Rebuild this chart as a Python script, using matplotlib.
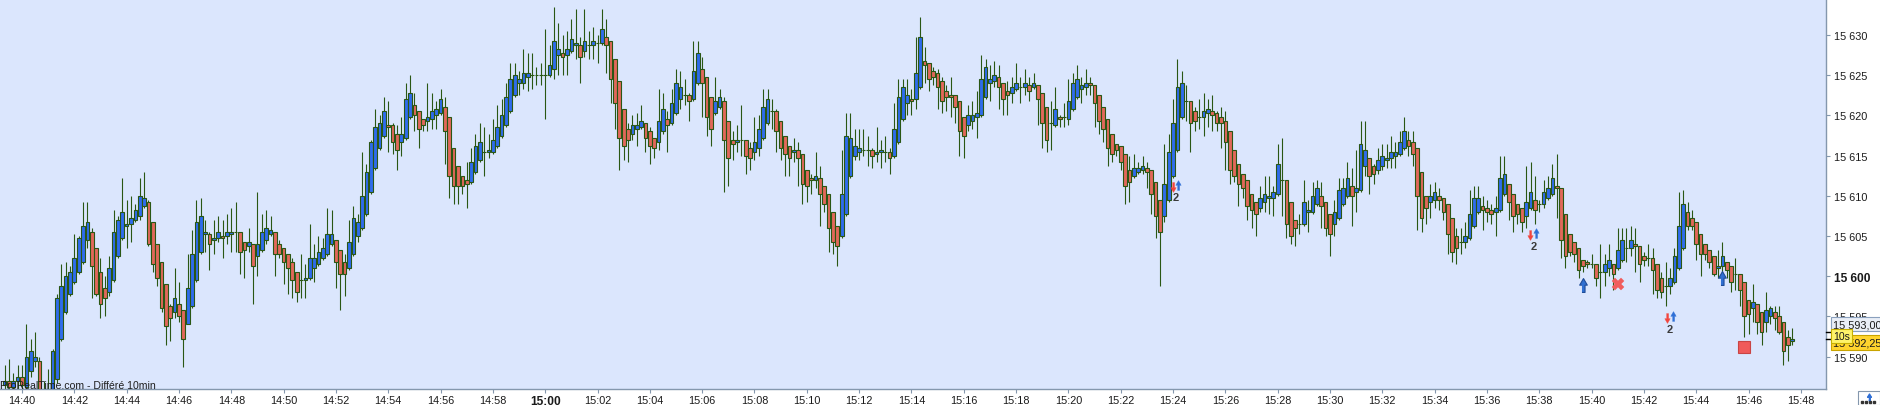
import numpy as np
import matplotlib
matplotlib.use("Agg")
import matplotlib.pyplot as plt
from matplotlib.lines import Line2D
from matplotlib.patches import Rectangle

plt.rcParams['font.family'] = ['Liberation Sans', 'DejaVu Sans']

# 10 second bars, first bar 14:39:20
first_bar_min = -40 / 60.0   # minutes relative to 14:40
bar_seconds = 10

opens = [
    15586.5, 15587.0, 15586.25, 15587.0,
    15587.5, 15586.25, 15588.25, 15589.5, 15589.5, 15586.0, 15585.0, 15586.0, 15587.25, 15592.25,
    15595.5, 15597.75, 15599.25, 15600.5, 15601.75, 15604.5, 15605.5, 15603.5, 15600.5, 15598.5,
    15598.0, 15599.5, 15602.5, 15604.75, 15606.25, 15606.5, 15607.0, 15607.5, 15608.75, 15609.25,
    15606.75, 15604.0, 15601.75, 15599.0, 15596.25, 15595.5, 15596.5, 15595.75, 15594.0, 15596.25,
    15599.5, 15603.0, 15605.25, 15605.25, 15604.5, 15604.75, 15605.0, 15605.0, 15605.25, 15605.5,
    15605.5, 15604.25, 15603.75, 15604.0, 15602.5, 15603.25, 15604.5, 15605.25, 15605.5, 15604.0,
    15603.5, 15602.75, 15601.75, 15600.5, 15599.5, 15599.5, 15599.75, 15601.0, 15601.5, 15602.25,
    15602.75, 15604.0, 15604.5, 15603.25, 15601.75, 15601.0, 15602.75, 15605.0, 15606.0, 15607.75,
    15610.5, 15613.5, 15616.0, 15617.5, 15618.75, 15618.75, 15617.75, 15616.75, 15617.25, 15619.75,
    15621.25, 15620.5, 15619.5, 15619.25, 15619.5, 15620.0, 15620.25, 15621.0, 15619.75, 15616.0,
    15613.75, 15612.5, 15612.0, 15611.75, 15613.0, 15614.5, 15615.5, 15615.5, 15615.5, 15616.25,
    15617.5, 15618.75, 15620.5, 15622.5, 15624.0, 15624.0, 15624.75, 15625.0, 15625.0, 15625.0,
    15625.0, 15625.0, 15625.75, 15627.5, 15627.75, 15627.5, 15628.0, 15628.75, 15628.75, 15628.0,
    15628.75, 15628.75, 15629.0, 15629.0, 15629.75, 15629.25, 15627.0, 15624.25, 15620.75, 15618.25,
    15617.75, 15618.25, 15618.5, 15619.0, 15618.0, 15617.25, 15616.75, 15618.0, 15619.5, 15619.0,
    15620.25, 15622.0, 15622.5, 15622.5, 15622.0, 15624.0, 15625.75, 15624.75, 15622.25, 15620.25,
    15621.0, 15621.75, 15619.25, 15617.0, 15616.75, 15617.0, 15617.0, 15616.0, 15615.5, 15616.0,
    15617.25, 15619.0, 15620.5, 15620.5, 15619.25, 15617.5, 15616.25, 15615.5, 15615.75, 15615.25,
    15613.25, 15612.25, 15612.0, 15612.25, 15611.25, 15610.25, 15608.0, 15606.25, 15605.0, 15607.75,
    15612.5, 15615.0, 15615.5, 15615.75, 15615.75, 15615.75, 15615.25, 15615.5, 15615.5, 15615.5,
    15615.0, 15616.75, 15619.5, 15621.5, 15622.0, 15622.0, 15623.5, 15626.75, 15626.5, 15625.5,
    15625.25, 15624.25, 15623.0, 15622.5, 15622.5, 15621.75, 15619.75, 15618.75, 15619.25, 15619.75,
    15620.0, 15622.25, 15624.0, 15624.25, 15624.75, 15624.0, 15623.0, 15622.75, 15623.25, 15623.5,
    15623.5, 15623.75, 15623.5, 15623.75, 15622.75, 15621.0, 15619.0, 15618.75, 15619.75, 15619.75,
    15619.5, 15620.75, 15622.25, 15623.25, 15623.5, 15624.0, 15623.75, 15622.5, 15621.0, 15619.5,
    15617.75, 15616.5, 15616.25, 15615.25, 15613.25, 15612.5, 15613.0, 15613.25, 15613.5, 15613.25,
    15611.75, 15609.5, 15607.5, 15609.5, 15612.5, 15615.75, 15619.75, 15621.75, 15621.75, 15620.5,
    15619.75, 15619.75, 15620.25, 15620.5, 15620.25, 15619.75, 15619.25, 15618.0, 15615.75, 15614.0,
    15612.75, 15612.0, 15610.25, 15609.25, 15608.5, 15609.25, 15609.75, 15609.75, 15610.25, 15612.0,
    15612.0, 15609.25, 15607.0, 15606.5, 15606.5, 15608.0, 15608.0, 15609.0, 15610.0, 15609.25,
    15607.75, 15606.5, 15607.25, 15609.0, 15610.0, 15611.25, 15610.5, 15610.75, 15613.75, 15614.75,
    15613.75, 15613.25, 15613.75, 15614.5, 15614.75, 15615.0, 15615.25, 15616.0, 15617.0, 15616.75,
    15616.0, 15613.0, 15610.0, 15609.25, 15609.5, 15610.0, 15609.75, 15609.0, 15607.25, 15605.0,
    15604.25, 15604.25, 15604.75, 15606.25, 15608.0, 15608.75, 15608.5, 15608.25, 15608.0, 15608.25,
    15610.25, 15611.5, 15610.25, 15609.0, 15608.5, 15607.5, 15608.5, 15609.5, 15609.0, 15609.0,
    15609.75, 15610.25, 15611.25, 15611.0, 15607.75, 15605.25, 15604.25, 15603.5, 15602.0, 15601.75,
    15601.5, 15601.5, 15600.5, 15600.5, 15601.0, 15601.5, 15601.0, 15602.0, 15603.5, 15603.5,
    15604.0, 15603.75, 15602.5, 15602.25, 15602.25, 15601.5, 15599.75, 15598.75, 15598.75, 15599.25,
    15601.0, 15603.5, 15608.0, 15607.25, 15606.75, 15605.25, 15604.0, 15603.25, 15602.5, 15601.0,
    15601.25, 15601.75, 15601.25, 15600.25, 15600.25, 15599.25, 15597.0, 15596.0, 15596.5, 15595.5,
    15594.25, 15595.0, 15595.5, 15595.0, 15594.25, 15592.5, 15592.0,
]

highs = [
    15589.0, 15589.75, 15588.0, 15589.0,
    15589.0, 15594.0, 15592.25, 15593.0, 15590.0, 15587.0, 15588.5, 15591.0, 15597.75, 15601.5,
    15601.75, 15601.25, 15605.25, 15605.0, 15609.25, 15609.25, 15606.0, 15603.5, 15602.25, 15600.0,
    15602.5, 15608.25, 15607.5, 15612.25, 15609.5, 15610.0, 15609.0, 15612.25, 15613.0, 15609.5,
    15606.75, 15604.0, 15601.75, 15599.0, 15596.5, 15601.0, 15599.25, 15595.75, 15602.75, 15605.75,
    15609.5, 15609.75, 15607.0, 15605.5, 15607.0, 15607.5, 15607.0, 15607.75, 15608.5, 15609.25,
    15605.5, 15604.25, 15606.0, 15604.0, 15610.5, 15607.75, 15608.25, 15607.5, 15605.5, 15604.5,
    15603.5, 15602.75, 15602.25, 15600.5, 15602.75, 15601.5, 15606.5, 15604.0, 15605.0, 15604.75,
    15608.5, 15608.25, 15604.5, 15603.25, 15602.75, 15607.0, 15608.75, 15607.75, 15615.5, 15614.0,
    15617.0, 15620.75, 15620.0, 15622.25, 15621.75, 15619.0, 15618.75, 15619.75, 15624.0, 15625.0,
    15622.75, 15620.5, 15619.5, 15624.0, 15622.75, 15621.75, 15623.25, 15622.25, 15619.75, 15616.0,
    15613.75, 15612.5, 15614.25, 15616.0, 15617.75, 15619.0, 15618.5, 15617.75, 15619.5, 15621.25,
    15622.0, 15624.0, 15626.5, 15626.5, 15625.5, 15628.25, 15627.75, 15627.75, 15626.0, 15626.5,
    15630.75, 15628.75, 15633.5, 15631.5, 15630.0, 15630.5, 15632.0, 15633.25, 15629.75, 15633.25,
    15630.5, 15631.0, 15630.0, 15633.25, 15632.0, 15629.25, 15627.0, 15624.25, 15620.75, 15619.0,
    15620.0, 15620.25, 15621.25, 15619.0, 15618.5, 15617.25, 15623.25, 15622.75, 15620.5, 15623.25,
    15625.75, 15625.5, 15624.5, 15622.75, 15629.25, 15629.25, 15627.25, 15624.75, 15622.25, 15624.75,
    15623.25, 15622.25, 15619.25, 15618.0, 15618.75, 15621.25, 15617.0, 15616.75, 15619.75, 15620.0,
    15623.25, 15623.25, 15622.0, 15620.75, 15619.25, 15617.5, 15616.25, 15617.25, 15616.75, 15615.25,
    15613.25, 15612.75, 15615.5, 15613.75, 15611.25, 15610.25, 15608.0, 15606.25, 15615.75, 15620.25,
    15620.25, 15618.25, 15618.25, 15618.25, 15617.5, 15616.0, 15618.5, 15617.0, 15617.5, 15616.0,
    15621.5, 15624.5, 15624.5, 15624.5, 15623.25, 15629.75, 15632.25, 15628.5, 15626.5, 15626.0,
    15625.75, 15624.75, 15623.75, 15624.75, 15622.5, 15621.75, 15619.75, 15621.25, 15621.75, 15623.0,
    15627.5, 15627.0, 15626.25, 15626.75, 15626.25, 15624.0, 15624.25, 15624.75, 15626.5, 15624.75,
    15625.75, 15624.75, 15625.25, 15623.75, 15622.75, 15621.0, 15621.75, 15623.5, 15620.0, 15621.5,
    15624.5, 15625.25, 15626.25, 15624.75, 15625.75, 15624.75, 15623.75, 15622.5, 15621.0, 15619.5,
    15617.75, 15616.5, 15616.25, 15615.25, 15615.0, 15615.25, 15614.25, 15615.0, 15614.25, 15613.25,
    15611.75, 15609.5, 15616.5, 15617.75, 15622.0, 15627.0, 15625.5, 15623.75, 15621.75, 15621.0,
    15622.0, 15622.75, 15622.0, 15622.5, 15620.5, 15621.0, 15620.5, 15618.0, 15615.75, 15614.0,
    15612.75, 15612.0, 15610.25, 15609.25, 15611.25, 15612.5, 15612.5, 15611.25, 15616.5, 15617.25,
    15612.0, 15609.25, 15607.0, 15607.75, 15612.0, 15609.5, 15611.75, 15612.0, 15611.75, 15609.25,
    15607.75, 15609.5, 15612.25, 15612.25, 15614.25, 15613.5, 15615.75, 15619.25, 15619.25, 15614.75,
    15614.0, 15616.0, 15616.5, 15616.5, 15617.5, 15616.75, 15618.0, 15619.75, 15618.0, 15618.0,
    15616.0, 15613.0, 15610.0, 15611.5, 15611.75, 15611.0, 15609.75, 15609.0, 15607.25, 15606.0,
    15606.0, 15606.75, 15610.75, 15611.25, 15611.25, 15610.0, 15609.5, 15609.0, 15610.0, 15615.0,
    15615.0, 15611.5, 15610.25, 15609.0, 15608.5, 15613.75, 15614.25, 15612.5, 15609.5, 15612.0,
    15612.5, 15614.0, 15615.25, 15611.0, 15607.75, 15605.25, 15604.25, 15603.5, 15602.0, 15602.0,
    15602.75, 15601.5, 15604.0, 15602.75, 15604.0, 15601.5, 15606.0, 15606.0, 15606.0, 15606.25,
    15606.0, 15603.75, 15603.0, 15604.0, 15603.5, 15601.5, 15600.5, 15601.75, 15601.0, 15603.5,
    15610.5, 15610.75, 15609.25, 15608.25, 15606.75, 15605.25, 15604.0, 15603.25, 15602.5, 15603.25,
    15604.25, 15601.75, 15601.25, 15602.25, 15600.25, 15599.25, 15597.0, 15599.0, 15596.5, 15595.5,
    15598.0, 15596.25, 15596.25, 15596.25, 15594.25, 15593.25, 15593.5,
]

lows = [
    15585.5, 15585.5, 15585.75, 15586.0,
    15586.0, 15586.0, 15587.5, 15588.75, 15585.5, 15584.5, 15584.5, 15585.75, 15586.75, 15592.0,
    15595.25, 15597.5, 15599.0, 15600.25, 15601.5, 15603.5, 15597.25, 15597.5, 15594.75, 15595.0,
    15597.5, 15599.25, 15602.25, 15604.5, 15603.5, 15604.25, 15606.75, 15607.0, 15608.5, 15603.75,
    15600.5, 15598.75, 15595.5, 15591.5, 15592.0, 15594.75, 15594.25, 15588.75, 15594.0, 15596.0,
    15599.25, 15602.75, 15603.0, 15600.75, 15602.75, 15604.25, 15602.25, 15604.0, 15603.0, 15603.0,
    15600.25, 15599.75, 15603.0, 15596.5, 15600.0, 15603.0, 15604.0, 15605.0, 15600.0, 15602.25,
    15599.0, 15597.75, 15597.25, 15596.75, 15597.25, 15597.25, 15599.5, 15599.25, 15601.25, 15602.0,
    15602.5, 15603.75, 15598.5, 15595.75, 15597.5, 15600.75, 15602.5, 15604.25, 15605.75, 15607.5,
    15610.25, 15613.25, 15615.75, 15617.25, 15615.5, 15615.25, 15613.25, 15615.0, 15617.0, 15619.5,
    15618.0, 15616.0, 15618.0, 15618.0, 15618.25, 15618.25, 15620.0, 15614.0, 15609.75, 15609.0,
    15609.0, 15610.25, 15608.5, 15611.5, 15612.75, 15614.25, 15612.5, 15614.75, 15615.25, 15616.0,
    15617.25, 15618.5, 15620.25, 15622.25, 15622.5, 15623.25, 15623.0, 15623.25, 15623.75, 15623.75,
    15619.5, 15624.75, 15624.5, 15625.0, 15625.0, 15625.0, 15627.75, 15627.0, 15624.0, 15627.25,
    15627.0, 15627.0, 15626.5, 15628.75, 15625.25, 15621.5, 15618.25, 15613.25, 15614.5, 15614.25,
    15617.0, 15616.25, 15618.25, 15615.5, 15614.0, 15614.75, 15615.75, 15617.75, 15615.5, 15618.75,
    15620.0, 15620.75, 15621.25, 15619.25, 15621.75, 15623.75, 15619.75, 15617.5, 15616.25, 15620.0,
    15620.75, 15610.5, 15611.25, 15614.5, 15615.5, 15615.0, 15612.75, 15613.25, 15614.5, 15615.0,
    15617.0, 15618.75, 15618.25, 15615.5, 15614.5, 15612.5, 15612.5, 15614.25, 15611.25, 15609.0,
    15609.25, 15610.25, 15611.0, 15606.25, 15608.0, 15603.0, 15602.75, 15601.25, 15604.75, 15607.5,
    15612.25, 15614.5, 15614.5, 15615.0, 15613.75, 15613.5, 15614.25, 15613.5, 15614.25, 15612.75,
    15614.75, 15616.5, 15619.25, 15620.0, 15620.0, 15620.75, 15623.25, 15624.0, 15623.0, 15623.75,
    15620.75, 15620.25, 15620.5, 15619.75, 15619.0, 15615.0, 15614.75, 15618.0, 15618.25, 15617.25,
    15619.75, 15622.0, 15621.75, 15623.5, 15620.75, 15620.0, 15620.0, 15621.5, 15623.0, 15621.5,
    15622.5, 15621.75, 15623.25, 15618.75, 15616.0, 15615.5, 15615.75, 15618.5, 15618.5, 15618.5,
    15618.75, 15620.5, 15622.0, 15621.5, 15622.5, 15622.5, 15618.5, 15617.75, 15616.75, 15613.75,
    15614.25, 15615.0, 15613.25, 15609.0, 15609.25, 15612.25, 15612.75, 15612.75, 15611.0, 15607.75,
    15604.75, 15598.75, 15606.75, 15609.25, 15612.25, 15615.5, 15619.5, 15619.25, 15615.5, 15618.0,
    15618.25, 15617.5, 15618.5, 15618.0, 15618.0, 15616.0, 15613.25, 15611.5, 15611.75, 15608.75,
    15609.75, 15607.0, 15606.0, 15605.0, 15608.0, 15608.0, 15607.75, 15607.5, 15610.0, 15607.5,
    15604.75, 15604.0, 15603.75, 15605.25, 15606.25, 15605.5, 15607.75, 15608.75, 15606.0, 15605.0,
    15602.5, 15605.0, 15607.0, 15608.75, 15609.75, 15606.25, 15608.0, 15610.5, 15612.5, 15610.25,
    15611.5, 15612.75, 15613.25, 15613.5, 15613.5, 15613.5, 15615.0, 15615.75, 15615.0, 15613.75,
    15605.75, 15605.5, 15606.5, 15607.25, 15608.5, 15608.25, 15607.0, 15602.75, 15601.75, 15601.5,
    15602.75, 15603.5, 15604.5, 15606.0, 15607.75, 15605.75, 15606.75, 15606.5, 15605.0, 15608.0,
    15610.0, 15607.0, 15605.5, 15606.5, 15605.5, 15606.0, 15608.25, 15606.5, 15608.0, 15608.5,
    15609.5, 15610.0, 15607.25, 15602.25, 15601.0, 15602.5, 15601.75, 15599.75, 15600.5, 15601.0,
    15601.0, 15598.75, 15597.25, 15598.75, 15600.0, 15598.25, 15600.75, 15601.75, 15601.75, 15602.5,
    15600.5, 15599.25, 15601.25, 15601.25, 15597.75, 15597.25, 15597.25, 15596.25, 15597.75, 15599.0,
    15600.75, 15603.25, 15605.75, 15605.75, 15602.0, 15600.0, 15602.0, 15601.0, 15600.0, 15599.75,
    15599.75, 15599.75, 15598.0, 15598.25, 15596.25, 15592.5, 15592.75, 15594.25, 15592.75, 15591.5,
    15593.0, 15594.0, 15593.25, 15592.75, 15589.0, 15589.5, 15591.5,
]

closes = [
    15587.0, 15586.25, 15587.0, 15587.5,
    15586.5, 15590.0, 15590.75, 15590.0, 15586.0, 15585.0, 15586.0, 15590.75, 15597.25, 15598.75,
    15600.0, 15600.5, 15602.25, 15604.75, 15606.25, 15606.75, 15601.25, 15597.75, 15596.5, 15597.25,
    15601.0, 15605.5, 15607.0, 15608.0, 15606.5, 15607.25, 15608.25, 15610.0, 15609.75, 15604.0,
    15601.5, 15599.75, 15596.0, 15593.75, 15594.75, 15597.25, 15595.0, 15592.25, 15598.5, 15602.75,
    15606.75, 15607.5, 15605.5, 15604.0, 15604.75, 15605.5, 15604.75, 15605.5, 15605.5, 15605.5,
    15603.0, 15603.25, 15604.25, 15601.25, 15604.0, 15605.5, 15606.0, 15605.75, 15602.75, 15602.75,
    15601.75, 15601.0, 15599.5, 15598.0, 15599.5, 15599.75, 15602.25, 15602.25, 15603.0, 15603.5,
    15605.25, 15605.25, 15601.75, 15600.25, 15600.25, 15604.25, 15607.25, 15606.75, 15610.0, 15613.0,
    15616.75, 15618.5, 15619.0, 15620.5, 15618.5, 15616.75, 15615.75, 15617.75, 15622.0, 15622.75,
    15620.0, 15618.25, 15618.75, 15619.75, 15620.5, 15620.75, 15622.0, 15618.0, 15612.5, 15611.25,
    15611.25, 15611.25, 15611.5, 15614.25, 15616.25, 15616.75, 15615.5, 15615.75, 15617.0, 15618.5,
    15620.0, 15622.25, 15624.5, 15625.0, 15624.5, 15625.25, 15625.25, 15625.0, 15625.0, 15625.0,
    15625.0, 15626.25, 15629.25, 15628.25, 15627.25, 15628.25, 15629.5, 15629.0, 15627.25, 15629.25,
    15628.75, 15629.25, 15629.0, 15630.75, 15628.75, 15624.5, 15621.5, 15617.25, 15616.25, 15617.0,
    15618.75, 15618.75, 15619.25, 15617.25, 15616.25, 15616.0, 15619.25, 15620.75, 15618.75, 15621.5,
    15624.0, 15623.5, 15622.5, 15621.75, 15625.5, 15627.75, 15624.0, 15619.75, 15618.25, 15621.75,
    15622.25, 15617.0, 15614.75, 15616.5, 15617.0, 15617.0, 15615.0, 15614.75, 15616.75, 15618.25,
    15621.0, 15622.0, 15620.5, 15618.0, 15616.0, 15615.25, 15614.75, 15615.75, 15614.75, 15611.5,
    15611.25, 15612.0, 15612.5, 15610.25, 15609.0, 15606.0, 15604.25, 15603.75, 15610.25, 15617.5,
    15617.25, 15616.25, 15616.0, 15615.75, 15615.75, 15615.0, 15615.5, 15615.75, 15615.5, 15614.75,
    15618.25, 15622.25, 15623.5, 15622.5, 15621.75, 15625.25, 15629.75, 15626.25, 15624.5, 15624.75,
    15623.5, 15621.75, 15622.25, 15622.25, 15621.0, 15618.0, 15617.5, 15620.0, 15620.0, 15620.25,
    15624.5, 15626.0, 15624.5, 15625.0, 15623.5, 15622.0, 15622.5, 15623.5, 15624.0, 15623.5,
    15624.0, 15623.0, 15624.0, 15622.0, 15619.0, 15617.0, 15619.0, 15620.75, 15619.5, 15619.75,
    15621.75, 15624.0, 15624.5, 15623.75, 15624.0, 15623.75, 15621.5, 15619.25, 15618.25, 15616.0,
    15615.25, 15615.75, 15614.25, 15611.25, 15611.75, 15613.5, 15613.5, 15613.75, 15613.0, 15610.25,
    15607.5, 15605.5, 15611.5, 15615.5, 15619.0, 15623.5, 15624.0, 15621.75, 15619.0, 15619.25,
    15619.75, 15620.5, 15620.75, 15620.0, 15619.0, 15619.0, 15616.75, 15613.25, 15612.5, 15611.5,
    15611.0, 15608.75, 15608.25, 15607.75, 15609.75, 15610.25, 15610.0, 15610.5, 15614.0, 15612.0,
    15606.5, 15605.0, 15606.0, 15606.5, 15609.25, 15608.25, 15610.0, 15611.0, 15608.75, 15606.0,
    15605.25, 15608.0, 15610.75, 15611.0, 15612.25, 15610.0, 15611.0, 15616.5, 15615.75, 15612.5,
    15612.75, 15614.5, 15615.0, 15614.75, 15615.5, 15615.5, 15616.75, 15618.0, 15616.25, 15615.25,
    15610.0, 15607.25, 15608.5, 15610.0, 15610.5, 15609.5, 15608.0, 15605.25, 15603.0, 15603.5,
    15604.25, 15605.0, 15607.75, 15609.75, 15609.75, 15608.25, 15608.0, 15607.75, 15608.5, 15612.25,
    15612.75, 15609.25, 15607.5, 15607.75, 15606.75, 15609.25, 15610.5, 15608.25, 15609.0, 15610.5,
    15611.0, 15612.25, 15611.0, 15604.5, 15602.5, 15603.0, 15602.75, 15600.75, 15601.25, 15601.5,
    15601.5, 15599.75, 15600.5, 15601.5, 15602.0, 15600.25, 15603.25, 15604.5, 15603.5, 15604.5,
    15603.75, 15601.5, 15602.0, 15602.25, 15600.75, 15598.25, 15598.0, 15598.75, 15599.75, 15602.5,
    15606.25, 15609.0, 15606.25, 15606.25, 15604.0, 15602.75, 15602.75, 15601.75, 15600.25, 15601.25,
    15602.5, 15600.75, 15599.25, 15600.25, 15598.25, 15595.0, 15595.25, 15596.75, 15594.25, 15593.0,
    15595.75, 15596.0, 15594.75, 15593.0, 15590.75, 15591.5, 15592.25,
]

# order signals (minutes after 14:40, price)
sell_t = [43.98, 57.65, 62.90]
sell_p = [15611.05, 15605.15, 15594.8]
buy_t = [44.20, 57.88, 63.12]
buy_p = [15611.4, 15605.4, 15595.0]
count_t = [44.10, 57.77, 63.00]
count_p = [15609.85, 15603.8, 15593.4]
count_txt = ["2", "2", "2"]
long_t = [59.68, 65.00]
long_p = [15598.95, 15599.8]
exit_t = [61.02]
exit_p = [15599.0]
stop_t = [65.83]
stop_p = [15591.15]

last_price = 15592.25
ref_price = 15593.00

# ----------------------------------------------------------------------------
W, H = 1881, 406
fig = plt.figure(figsize=(W / 100, H / 100), dpi=100, facecolor='white')
ax = fig.add_axes([0, 1 - 390 / H, 1826 / W, 390 / H])
ax.set_facecolor('#dbe6fd')

o = np.array(opens)
h = np.array(highs)
l = np.array(lows)
c = np.array(closes)
t = first_bar_min + np.arange(len(o)) * bar_seconds / 60.0

blue = '#2f6cec'
red = '#e2685a'
edge = '#2a5714'
cols = np.where(c >= o, blue, red)

ax.vlines(t, l, h, color=edge, lw=0.8, zorder=2)
ax.bar(t, np.abs(c - o), width=0.14, bottom=np.minimum(o, c), color=cols,
       edgecolor=edge, linewidth=0.8, zorder=3)

up_arrow = [(-0.22, -1), (0.22, -1), (0.22, 0.05), (0.55, 0.05), (0, 1), (-0.55, 0.05), (-0.22, 0.05)]
down_arrow = [(x, -y) for x, y in up_arrow]

ax.plot(sell_t, sell_p, ls='none', marker=down_arrow, ms=7, mfc='#f2453d', mec='#f2453d', mew=0.3, zorder=6)
ax.plot(buy_t, buy_p, ls='none', marker=up_arrow, ms=7, mfc='#2f6fd6', mec='#2f6fd6', mew=0.3, zorder=6)
for x, y, s in zip(count_t, count_p, count_txt):
    ax.text(x, y, s, ha='center', va='center', fontsize=8, fontweight='bold', color='#3a3a3a', zorder=6)
ax.plot(long_t, long_p, ls='none', marker=up_arrow, ms=10, mfc='#3070d2', mec='#1f4c98', mew=0.8, zorder=6)
ax.plot(exit_t, exit_p, ls='none', marker='X', ms=9, mfc='#f05c5c', mec='#f05c5c', mew=0.3, zorder=6)
ax.plot(stop_t, stop_p, ls='none', marker='s', ms=8, mfc='#f05a5a', mec='#c94444', mew=0.8, zorder=6)

ax.set_xlim(-0.841, 68.96)
ax.set_ylim(15585.97, 15634.48)

xt = np.arange(0, 70, 2)
xl = [f"{14 + (40 + m) // 60}:{(40 + m) % 60:02d}" for m in xt]
ax.set_xticks(xt)
ax.set_xticklabels(xl)
yt = np.arange(15590, 15631, 5)
ax.yaxis.tick_right()
ax.set_yticks(yt)
ax.set_yticklabels([f"{v // 1000} {v % 1000:03d}" for v in yt])

ax.tick_params(axis='x', direction='out', length=3, width=0.8, color='#8497ad',
               labelsize=7.8, pad=1.5, labelcolor='#1a1a1a')
ax.tick_params(axis='y', direction='out', length=3, width=0.8, color='#8497ad',
               labelsize=7.8, pad=2.5, labelcolor='#1a1a1a')
for lab in ax.get_xticklabels():
    if lab.get_text() == '15:00':
        lab.set_fontweight('bold')
        lab.set_fontsize(8.6)
for lab in ax.get_yticklabels():
    if lab.get_text() == '15 600':
        lab.set_fontweight('bold')
        lab.set_fontsize(8.6)

for s in ['left', 'top']:
    ax.spines[s].set_visible(False)
for s in ['right', 'bottom']:
    ax.spines[s].set_color('#8497ad')
    ax.spines[s].set_linewidth(1.0)

ax.text(0.0, 0.011, 'ProRealTime.com - Différé 10min', transform=ax.transAxes,
        ha='left', va='center', fontsize=7.6, color='#1e1e1e', zorder=7)

# price boxes on the right scale
yax = ax.get_yaxis_transform()
for p in (ref_price, last_price):
    ax.add_line(Line2D([1.0, 1.0 + 6 / 1826], [p, p], transform=yax, color='black',
                       lw=1.0, clip_on=False, zorder=8))
ax.text(1.0 + 7 / 1826, ref_price + 1.05, '15 593,00', transform=yax, ha='left', va='center',
        fontsize=7.8, color='#1a1a1a', clip_on=False, zorder=9,
        bbox=dict(boxstyle='square,pad=0.22', fc='#e9eef7', ec='#8aa0bd', lw=0.8))
ax.text(1.0 + 7 / 1826, last_price - 0.45, '15 592,25', transform=yax, ha='left', va='center',
        fontsize=7.8, color='#1a1a1a', clip_on=False, zorder=9,
        bbox=dict(boxstyle='square,pad=0.22', fc='#ffd42e', ec='#c9a400', lw=0.8))
ax.text(1.0 + 7 / 1826, last_price + 0.3, '10s', transform=yax, ha='left', va='center',
        fontsize=7.6, color='#1a1a1a', clip_on=False, zorder=10,
        bbox=dict(boxstyle='square,pad=0.18', fc='#fff36a', ec='#c7b000', lw=0.8))

# small toolbar icon bottom right
fig.add_artist(Rectangle((1858 / W, 0), 22 / W, 14 / H, transform=fig.transFigure,
                         fc='white', ec='#8497ad', lw=0.8))
fig.add_artist(Line2D([1869 / W], [8.5 / H], transform=fig.transFigure, ls='none',
                      marker=up_arrow, ms=5, mfc='#2f6fd6', mec='#2f6fd6'))
fig.add_artist(Line2D(np.array([1862, 1866, 1870, 1874]) / W, [3 / H] * 4, transform=fig.transFigure,
                      ls='none', marker='s', ms=1.6, mfc='#333333', mec='#333333'))

fig.savefig('out.png', dpi=100, facecolor='white')
